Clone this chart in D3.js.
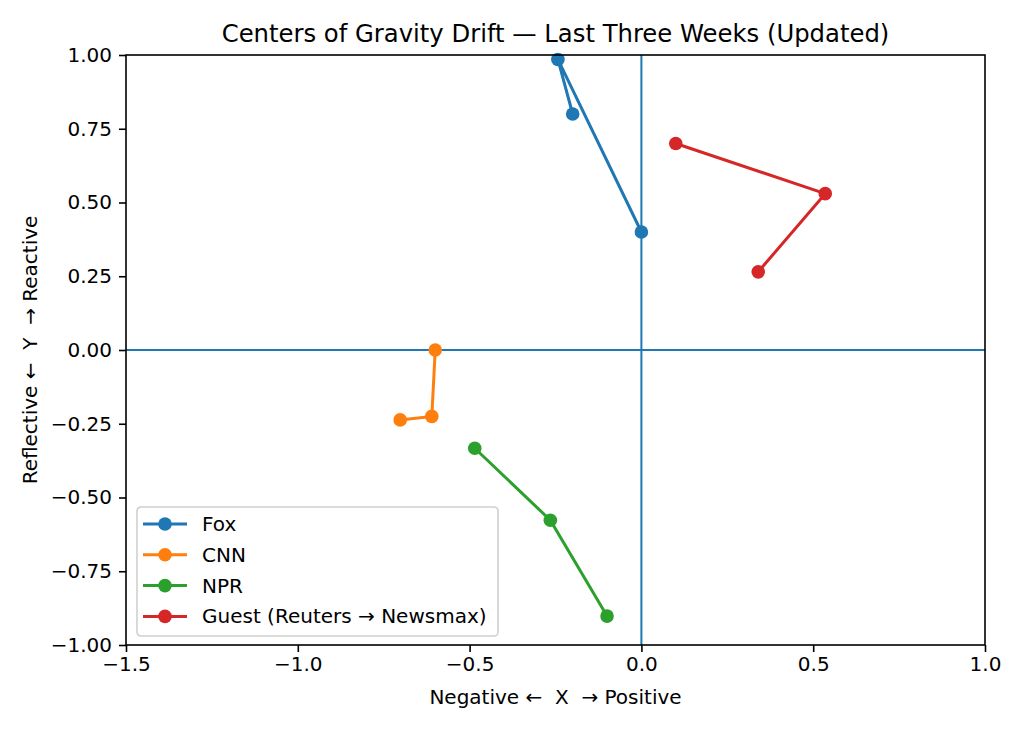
<!DOCTYPE html>
<html>
<head>
    <meta charset="utf-8">
    <title>Centers of Gravity Drift</title>
    <script src="https://d3js.org/d3.v7.min.js"></script>
    <style>
        body { margin: 0; background: #fff; }
        svg { display: block; font-family: "DejaVu Sans", sans-serif; }
    </style>
</head>
<body>
    <svg id="chart" width="1023" height="731"></svg>

    <script>
        // data
        const seriesNames = ["Fox", "CNN", "NPR", "Guest (Reuters \u2192 Newsmax)"];
        const seriesColors = ["#1f77b4", "#ff7f0e", "#2ca02c", "#d62728"];
        const foxPts = [[-0.20, 0.80], [-0.243, 0.985], [0.0, 0.40]];
        const cnnPts = [[-0.60, 0.0], [-0.61, -0.225], [-0.702, -0.237]];
        const nprPts = [[-0.485, -0.333], [-0.265, -0.577], [-0.10, -0.902]];
        const guestPts = [[0.10, 0.70], [0.535, 0.53], [0.34, 0.265]];
        const xTicks = [-1.5, -1.0, -0.5, 0.0, 0.5, 1.0];
        const yTicks = [-1.0, -0.75, -0.5, -0.25, 0.0, 0.25, 0.5, 0.75, 1.0];

        const allSeries = [foxPts, cnnPts, nprPts, guestPts];

        const svg = d3.select("#chart");
        const pLeft = 126, pRight = 985, pTop = 55, pBottom = 645;
        const fs = 20;

        const x = d3.scaleLinear().domain([-1.5, 1.0]).range([pLeft, pRight]);
        const y = d3.scaleLinear().domain([-1, 1]).range([pBottom, pTop]);

        // zero lines
        svg.append("line")
            .attr("x1", x(0)).attr("x2", x(0)).attr("y1", pTop).attr("y2", pBottom)
            .attr("stroke", "#1f77b4").attr("stroke-width", 2);
        svg.append("line")
            .attr("x1", pLeft).attr("x2", pRight).attr("y1", y(0)).attr("y2", y(0))
            .attr("stroke", "#1f77b4").attr("stroke-width", 2);

        // series
        const line = d3.line().x(d => x(d[0])).y(d => y(d[1]));
        allSeries.forEach((pts, i) => {
            svg.append("path")
                .datum(pts)
                .attr("d", line)
                .attr("fill", "none")
                .attr("stroke", seriesColors[i])
                .attr("stroke-width", 3);
            svg.append("g").selectAll("circle")
                .data(pts)
                .enter()
                .append("circle")
                .attr("cx", d => x(d[0]))
                .attr("cy", d => y(d[1]))
                .attr("r", 6.8)
                .attr("fill", seriesColors[i]);
        });

        // axes
        const xAxis = svg.append("g")
            .attr("transform", `translate(0,${pBottom})`)
            .call(d3.axisBottom(x).tickValues(xTicks).tickSize(7).tickPadding(5)
                .tickFormat(d3.format(".1f")));
        const yAxis = svg.append("g")
            .attr("transform", `translate(${pLeft},0)`)
            .call(d3.axisLeft(y).tickValues(yTicks).tickSize(7).tickPadding(7)
                .tickFormat(d3.format(".2f")));
        [xAxis, yAxis].forEach(a => {
            a.select(".domain").remove();
            a.selectAll("text").attr("font-size", fs).attr("fill", "#000")
                .attr("font-family", "DejaVu Sans, sans-serif");
            a.selectAll("line").attr("stroke", "#000").attr("stroke-width", 1.6);
        });

        // frame
        svg.append("rect")
            .attr("x", pLeft).attr("y", pTop)
            .attr("width", pRight - pLeft).attr("height", pBottom - pTop)
            .attr("fill", "none").attr("stroke", "#000").attr("stroke-width", 1.6);

        // labels
        svg.append("text")
            .attr("x", (pLeft + pRight) / 2).attr("y", 42)
            .attr("text-anchor", "middle").attr("font-size", 24.3)
            .text("Centers of Gravity Drift \u2014 Last Three Weeks (Updated)");
        svg.append("text")
            .attr("x", (pLeft + pRight) / 2).attr("y", 704)
            .attr("text-anchor", "middle").attr("font-size", fs)
            .style("white-space", "pre")
            .text("Negative \u2190  X  \u2192 Positive");
        svg.append("text")
            .attr("transform", `translate(37,${(pTop + pBottom) / 2}) rotate(-90)`)
            .attr("text-anchor", "middle").attr("font-size", fs)
            .style("white-space", "pre")
            .text("Reflective \u2190  Y  \u2192 Reactive");

        // legend
        const lg = svg.append("g").attr("transform", "translate(137,507)");
        lg.append("rect")
            .attr("width", 361).attr("height", 129).attr("rx", 4)
            .attr("fill", "#fff").attr("fill-opacity", 0.8)
            .attr("stroke", "#d0d0d0").attr("stroke-width", 1.6);
        seriesNames.forEach((name, i) => {
            const yy = 17 + i * 30.8;
            lg.append("line")
                .attr("x1", 6).attr("x2", 50).attr("y1", yy).attr("y2", yy)
                .attr("stroke", seriesColors[i]).attr("stroke-width", 3);
            lg.append("circle")
                .attr("cx", 28).attr("cy", yy).attr("r", 6.8)
                .attr("fill", seriesColors[i]);
            lg.append("text")
                .attr("x", 65).attr("y", yy + 7)
                .attr("font-size", fs)
                .text(name);
        });
    </script>
</body>
</html>
